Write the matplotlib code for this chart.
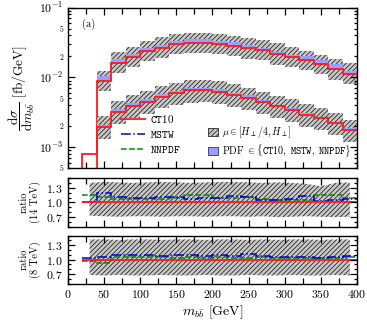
import numpy as np
import matplotlib
matplotlib.use("Agg")
import matplotlib.pyplot as plt
from matplotlib.lines import Line2D
from matplotlib.patches import Patch
from matplotlib.ticker import MultipleLocator, LogLocator, FuncFormatter, NullFormatter

plt.rcParams['font.family'] = 'serif'
plt.rcParams['font.serif'] = ['cmr10']
plt.rcParams['mathtext.fontset'] = 'cm'
plt.rcParams['axes.formatter.use_mathtext'] = True
plt.rcParams['hatch.linewidth'] = 0.6

# bin edges 0..400 GeV, 20 GeV wide
edges = np.arange(0, 420, 20)
centers = (edges[1:-1] + edges[2:]) / 2   # centres of bins 20-40 ... 380-400

# CT10 central values [fb/GeV], bins 0-20 ... 380-400
ct10_14 = [1e-6, 8.0e-4, 8.8e-3, 0.0162, 0.0197, 0.0236, 0.0265, 0.0298, 0.031, 0.031,
           0.0298, 0.028, 0.026, 0.0243, 0.0218, 0.0195, 0.0175, 0.0156, 0.0133, 0.0112]
ct10_8 = [1e-6, 3e-4, 1.96e-3, 3.2e-3, 3.9e-3, 4.5e-3, 5.3e-3, 5.9e-3, 6.5e-3, 6.5e-3,
          6.2e-3, 5.6e-3, 5.0e-3, 4.4e-3, 3.85e-3, 3.4e-3, 2.9e-3, 2.6e-3, 2.2e-3, 1.75e-3]

# scale band (ratio to CT10), bins 20-40 ... 380-400
up14 = [1.40, 1.42, 1.41, 1.40, 1.41, 1.42, 1.41, 1.40, 1.41, 1.42,
        1.42, 1.41, 1.40, 1.41, 1.40, 1.38, 1.33, 1.40, 1.41]
dn14 = [0.73, 0.72, 0.71, 0.72, 0.72, 0.71, 0.72, 0.72, 0.71, 0.72,
        0.72, 0.71, 0.72, 0.70, 0.71, 0.72, 0.71, 0.70, 0.71]
up8 = [1.42, 1.42, 1.41, 1.42, 1.42, 1.41, 1.42, 1.42, 1.41, 1.42,
       1.42, 1.41, 1.42, 1.41, 1.42, 1.42, 1.41, 1.42, 1.42]
dn8 = [0.68, 0.67, 0.68, 0.67, 0.67, 0.68, 0.67, 0.67, 0.68, 0.67,
       0.67, 0.68, 0.67, 0.67, 0.68, 0.67, 0.67, 0.68, 0.67]

# PDF ratios to CT10, bins 20-40 ... 380-400
mstw_14 = [1.02, 1.19, 1.12, 1.09, 1.10, 1.11, 1.11, 1.08, 1.09, 1.10,
           1.14, 1.12, 1.06, 1.06, 1.08, 1.14, 1.03, 1.05, 1.07]
nnpdf_14 = [1.15, 1.12, 1.08, 1.08, 1.07, 1.08, 1.09, 1.16, 1.15, 1.10,
            1.09, 1.12, 1.08, 1.05, 1.05, 1.06, 1.15, 1.15, 1.10]
mstw_8 = [1.03, 1.05, 1.10, 1.09, 1.10, 1.08, 1.09, 1.10, 1.07, 1.09,
          1.08, 1.12, 1.07, 1.05, 1.06, 1.05, 1.04, 1.05, 1.07]
nnpdf_8 = [0.97, 0.93, 1.06, 1.06, 1.05, 1.05, 1.04, 1.05, 1.04, 1.05,
           1.04, 1.04, 1.05, 1.04, 1.03, 1.04, 1.03, 1.03, 1.05]

RED = '#ff1a1a'
BLUE = '#0000cc'
GREEN = '#008a00'
PDFCOL = '#9d9dff'
HFACE = '#c8c8c8'
HEDGE = '#2a2a2a'
HATCH = '///////'

fig = plt.figure(figsize=(3.67, 3.29), dpi=100)
ax = fig.add_axes([0.185, 0.489, 0.788, 0.488])
ar1 = fig.add_axes([0.185, 0.31, 0.788, 0.149])
ar2 = fig.add_axes([0.185, 0.138, 0.788, 0.146])


def step_ext(v):
    v = np.asarray(v)
    return np.append(v, v[-1])


# main panel
for ct, up, dn, ms, nn in [(ct10_14, up14, dn14, mstw_14, nnpdf_14),
                           (ct10_8, up8, dn8, mstw_8, nnpdf_8)]:
    c = np.asarray(ct[2:])
    x = edges[2:]
    ax.fill_between(x, step_ext(c * np.asarray(dn[1:])), step_ext(c * np.asarray(up[1:])),
                    step='post', facecolor=HFACE, edgecolor=HEDGE, hatch=HATCH, linewidth=0)
    pdf = np.maximum(ms[1:], nn[1:])
    ax.fill_between(x, step_ext(c), step_ext(c * pdf), step='post',
                    facecolor=PDFCOL, edgecolor='none', linewidth=0)
    ax.stairs(ct, edges, color=RED, linewidth=1.3, baseline=None)

ax.set_yscale('log')
ax.set_ylim(5e-4, 0.1)
ax.set_xlim(0, 400)
ax.yaxis.set_major_locator(LogLocator(base=10, numticks=10))
ax.yaxis.set_minor_locator(LogLocator(base=10, subs=np.arange(2, 10), numticks=10))


def minor_fmt(v, pos):
    m = v / 10 ** np.floor(np.log10(v) + 1e-9)
    if abs(m - 2) < 0.01:
        return '2'
    if abs(m - 5) < 0.01:
        return '5'
    return ''


ax.yaxis.set_minor_formatter(FuncFormatter(minor_fmt))
ax.tick_params(axis='y', which='minor', labelsize=5.5)
ax.xaxis.set_major_formatter(NullFormatter())
ax.set_ylabel(r'$\dfrac{\mathrm{d}\sigma}{\mathrm{d}m_{b\bar{b}}}$ [fb/GeV]', fontsize=9.5, labelpad=1)
ax.text(0.05, 0.88, '(a)', transform=ax.transAxes, fontsize=7.5)

h1 = [Line2D([], [], color=RED, lw=1.3),
      Line2D([], [], color=BLUE, lw=1.1, ls='-.'),
      Line2D([], [], color=GREEN, lw=1.1, ls='--')]
l1 = ax.legend(h1, [r'$\mathtt{CT10}$', r'$\mathtt{MSTW}$', r'$\mathtt{NNPDF}$'],
               loc='lower left', bbox_to_anchor=(0.15, 0.02), frameon=False,
               fontsize=8, handlelength=2.1, handletextpad=0.5, labelspacing=0.35)
ax.add_artist(l1)
h2 = [Patch(facecolor=HFACE, edgecolor=HEDGE, hatch=HATCH, lw=0.6),
      Patch(facecolor=PDFCOL, edgecolor='#303060', lw=0.6)]
ax.legend(h2, [r'$\mu \in [H_\perp/4, H_\perp]$',
               r'PDF $\in \{\mathtt{CT10,\ MSTW,\ NNPDF}\}$'],
          loc='lower right', bbox_to_anchor=(1.01, 0.0), frameon=False,
          fontsize=7.2, handlelength=1.0, handleheight=0.9, handletextpad=0.4,
          labelspacing=0.2)

# ratio panels
for a, up, dn, ms, nn, lab in [(ar1, up14, dn14, mstw_14, nnpdf_14, '14'),
                               (ar2, up8, dn8, mstw_8, nnpdf_8, '8')]:
    a.fill_between(centers, dn, up, facecolor=HFACE, edgecolor=HEDGE, hatch=HATCH, linewidth=0)
    a.stairs(nn, edges[1:], color=GREEN, lw=1.1, ls='--', baseline=None)
    a.stairs(ms, edges[1:], color=BLUE, lw=1.1, ls='-.', baseline=None)
    a.stairs(np.ones(len(ms)), edges[1:], color=RED, lw=1.3, baseline=None)
    a.set_xlim(0, 400)
    a.set_ylim(0.5, 1.5)
    a.set_yticks([0.7, 1.0, 1.3])
    a.yaxis.set_minor_locator(MultipleLocator(0.1))
    a.set_ylabel('ratio\n(%s TeV)' % lab, fontsize=7.5, labelpad=4, linespacing=1.1)

ar1.xaxis.set_major_formatter(NullFormatter())
ar2.set_xlabel(r'$m_{b\bar{b}}$ [GeV]', fontsize=10, labelpad=2)

for a in (ax, ar1, ar2):
    a.xaxis.set_major_locator(MultipleLocator(50))
    a.xaxis.set_minor_locator(MultipleLocator(25))
    a.tick_params(which='both', direction='in', top=True, right=True, width=0.9)
    a.tick_params(which='major', length=5, labelsize=8.5)
    a.tick_params(axis='x', which='minor', length=4)
    a.tick_params(axis='y', which='minor', length=2.5)
    for s in a.spines.values():
        s.set_linewidth(1.0)

fig.savefig('out.png', dpi=100)
